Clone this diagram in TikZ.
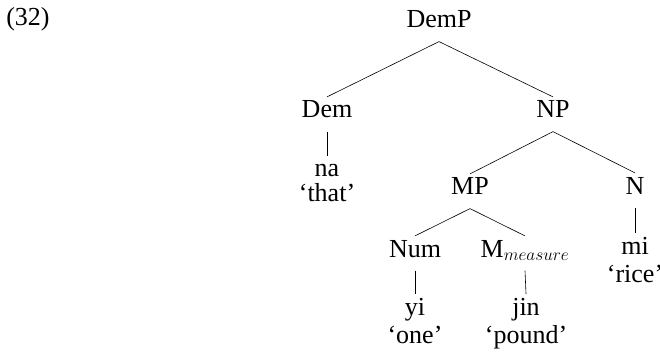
\documentclass[tikz,border=0pt]{standalone}
\usepackage{fontspec}
\setmainfont{Liberation Serif}
\tikzset{
  cat/.style={anchor=base,text height=17.5pt,text depth=10pt,inner sep=3.3pt},
  gloss/.style={anchor=base,inner sep=0}
}
\begin{document}
\begin{tikzpicture}[x=1pt,y=-1pt,font=\fontsize{26}{31}\selectfont,line width=.6pt]
\useasboundingbox (0,0) rectangle (660,355); %page size

\node[anchor=base west,inner sep=0] (exno) at (6,26) {(32)}; %example number

%categories
\node[cat] (demp) at (439,28) {DemP};
\node[cat] (dem) at (327,118) {Dem};
\node[cat] (np) at (553,118) {NP};
\node[cat] (mp) at (470,195) {MP};
\node[cat] (n) at (635,194) {N};
\node[cat] (num) at (415,257) {Num};
\node[cat] (meas) at (525,257) {M$_{measure}$};

%words
\node[cat] (na) at (327,177) {na};
\node[cat] (mi) at (635,254) {mi};
\node[cat] (yi) at (415,315) {yi};
\node[cat] (jin) at (526,315) {jin};

%glosses
\node[gloss] (that) at (327,201) {`that'};
\node[gloss] (rice) at (635,282) {`rice'};
\node[gloss] (one) at (415,343) {`one'};
\node[gloss] (pound) at (526,343) {`pound'};

%branches
\draw (demp.south)--(dem.north);
\draw (demp.south)--(np.north);
\draw (np.south)--(mp.north);
\draw (np.south)--(n.north);
\draw (mp.south)--(num.north);
\draw (mp.south)--(meas.north);
\draw (dem.south)--(na.north);
\draw (n.south)--(mi.north);
\draw (num.south)--(yi.north);
\draw (meas.south)--(jin.north);
\end{tikzpicture}
\end{document}
